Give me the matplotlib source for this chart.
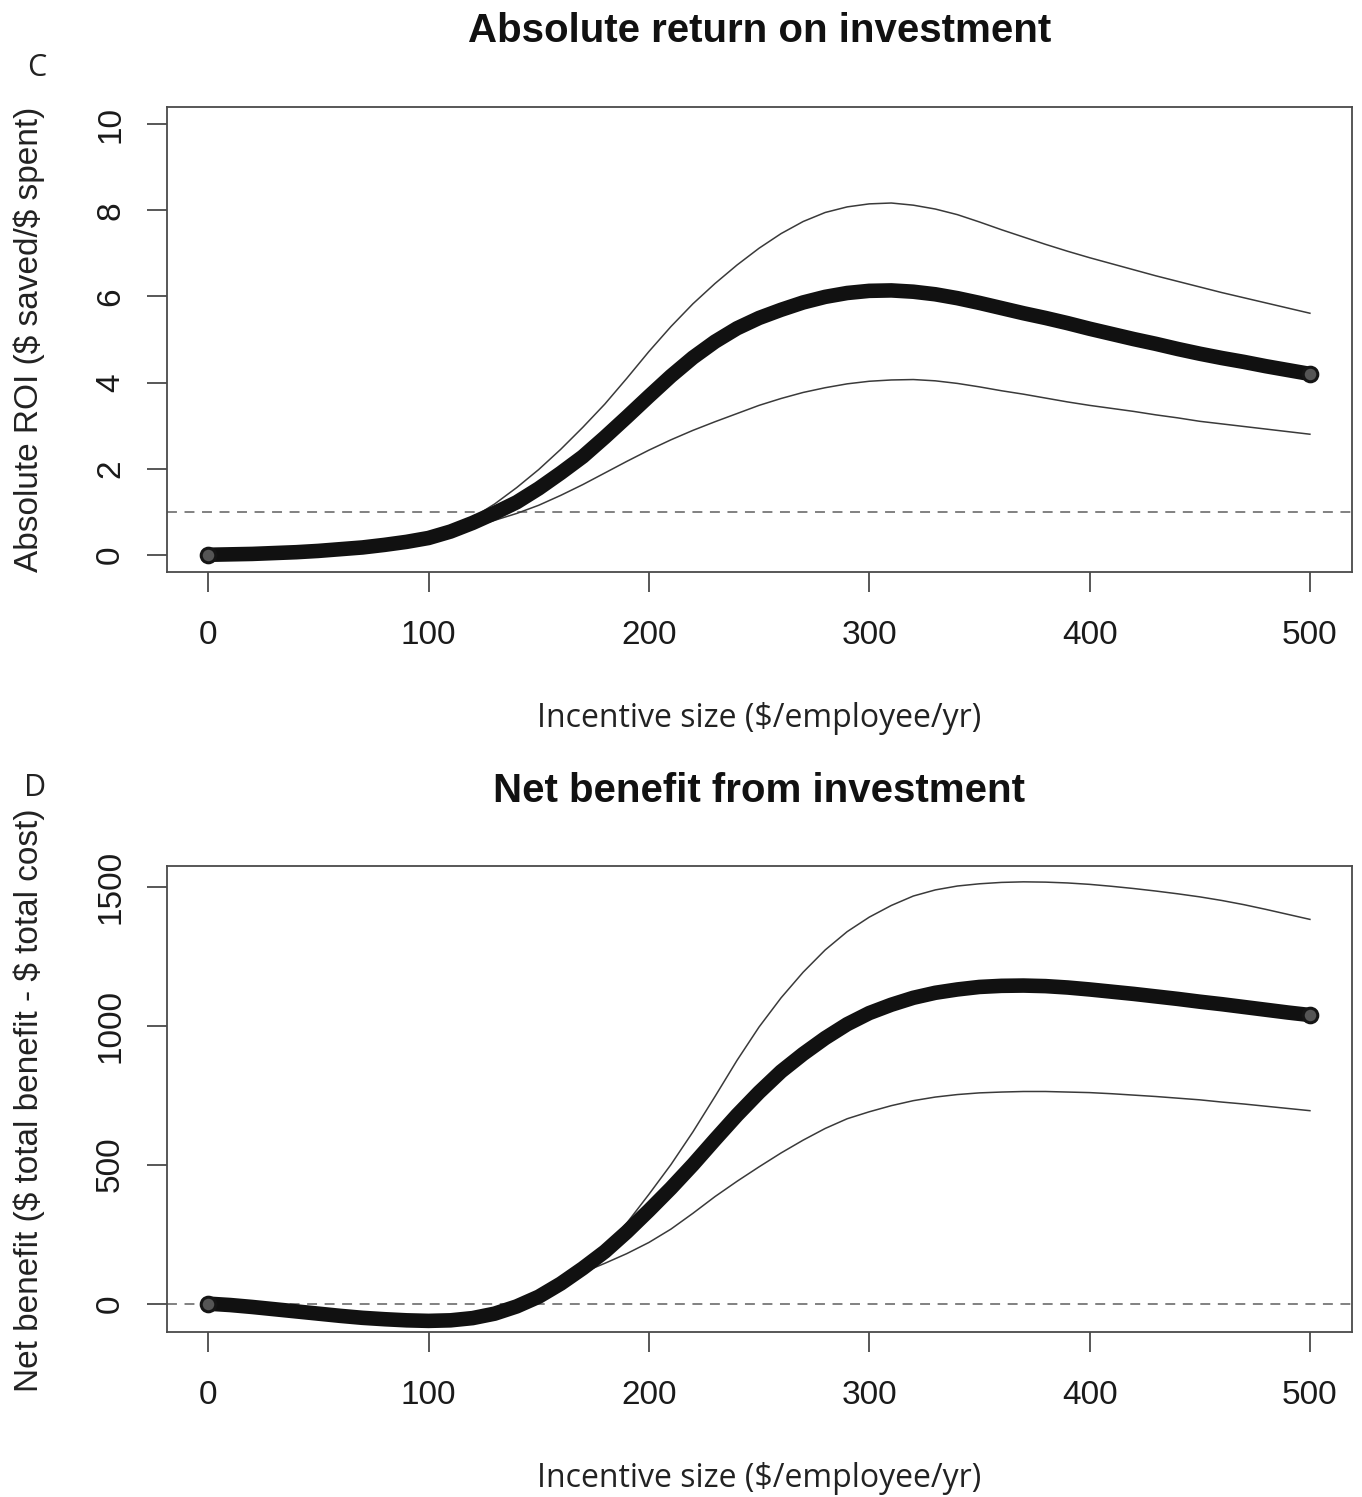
import matplotlib
matplotlib.use("Agg")
import matplotlib.pyplot as plt
import numpy as np

plt.rcParams["text.parse_math"] = False

# ---------------- data ----------------
incentive = list(range(0, 510, 10))

roi_mid = [0.00, 0.01, 0.02, 0.04, 0.06, 0.09, 0.13, 0.17, 0.23, 0.30,
           0.39, 0.54, 0.74, 0.97, 1.22, 1.54, 1.90, 2.28, 2.73, 3.20,
           3.68, 4.15, 4.58, 4.95, 5.26, 5.50, 5.69, 5.86, 5.99, 6.08,
           6.13, 6.14, 6.11, 6.05, 5.96, 5.85, 5.73, 5.61, 5.50, 5.38,
           5.25, 5.13, 5.01, 4.90, 4.78, 4.67, 4.57, 4.48, 4.38, 4.29,
           4.20]
roi_hi = [0.00, 0.01, 0.02, 0.04, 0.06, 0.09, 0.13, 0.17, 0.23, 0.30,
          0.40, 0.58, 0.86, 1.18, 1.56, 1.98, 2.45, 2.96, 3.50, 4.10,
          4.72, 5.30, 5.83, 6.30, 6.73, 7.12, 7.46, 7.74, 7.95, 8.08,
          8.15, 8.17, 8.12, 8.03, 7.90, 7.73, 7.55, 7.38, 7.21, 7.05,
          6.90, 6.76, 6.62, 6.48, 6.35, 6.22, 6.09, 5.97, 5.85, 5.73,
          5.61]
roi_lo = [0.00, 0.01, 0.02, 0.04, 0.06, 0.09, 0.13, 0.17, 0.23, 0.30,
          0.38, 0.50, 0.64, 0.80, 0.96, 1.15, 1.38, 1.63, 1.90, 2.17,
          2.43, 2.67, 2.89, 3.09, 3.28, 3.47, 3.63, 3.77, 3.88, 3.97,
          4.03, 4.06, 4.07, 4.04, 3.98, 3.90, 3.81, 3.73, 3.64, 3.55,
          3.47, 3.40, 3.33, 3.25, 3.18, 3.10, 3.04, 2.98, 2.92, 2.86,
          2.80]

nb_mid = [0, -5, -12, -20, -28, -36, -44, -51, -56, -60,
          -62, -60, -52, -36, -10, 25, 72, 127, 187, 258,
          335, 415, 500, 590, 678, 760, 835, 898, 955, 1005,
          1045, 1075, 1100, 1118, 1130, 1139, 1143, 1144, 1142, 1137,
          1130, 1122, 1114, 1105, 1096, 1086, 1077, 1067, 1057, 1047,
          1038]
nb_hi = [0, -5, -12, -20, -28, -36, -44, -51, -56, -60,
         -62, -60, -52, -36, -10, 25, 72, 133, 200, 290,
         393, 500, 618, 745, 875, 995, 1100, 1192, 1272, 1338,
         1390, 1432, 1466, 1488, 1502, 1510, 1515, 1517, 1516, 1513,
         1508, 1501, 1493, 1484, 1474, 1463, 1450, 1435, 1418, 1400,
         1382]
nb_lo = [0, -5, -12, -20, -28, -36, -44, -51, -56, -60,
         -62, -60, -52, -36, -10, 25, 72, 112, 145, 180,
         220, 268, 325, 385, 440, 492, 542, 588, 630, 665,
         690, 712, 730, 743, 752, 758, 761, 763, 763, 761,
         759, 755, 750, 745, 739, 733, 725, 718, 710, 702,
         694]

x_ticks = [0, 100, 200, 300, 400, 500]
roi_ticks = [0, 2, 4, 6, 8, 10]
nb_ticks = [0, 500, 1000, 1500]
roi_threshold = 1
nb_threshold = 0

# ---------------- figure ----------------
W, H = 1362, 1497
fig = plt.figure(figsize=(W / 100, H / 100), dpi=100)

TICKFONT = "Liberation Sans"
LABFONT = "Open Sans"


def fx(px):
    return px / W


def fy(py):
    return 1 - py / H


def make_axes(top, bottom):
    left, right = 167, 1352
    return fig.add_axes([fx(left), fy(bottom), (right - left) / W, (bottom - top) / H])


def style(ax, yticks, ylim, thr):
    ax.set_xlim(-18.7, 519.1)
    ax.set_ylim(*ylim)
    for s in ax.spines.values():
        s.set_color("#4a4a4a")
        s.set_linewidth(1.3)
    ax.set_xticks(x_ticks)
    ax.set_xticklabels([str(v) for v in x_ticks], fontfamily=TICKFONT, fontsize=24, color="#1a1a1a")
    ax.set_yticks(yticks)
    ax.set_yticklabels([str(v) for v in yticks], fontfamily=TICKFONT, fontsize=24,
                       rotation=90, va="center", color="#1a1a1a")
    ax.tick_params(axis="x", direction="out", length=14.5, width=1.3,
                   color="#4a4a4a", pad=20)
    ax.tick_params(axis="y", direction="out", length=14.5, width=1.3,
                   color="#4a4a4a", pad=15)
    ax.axhline(thr, color="#777777", lw=1.3, dashes=(5.5, 4.2), zorder=1)


def draw_band(ax, x, mid, hi, lo):
    ax.plot(x, hi, color="#3a3a3a", lw=1.1, zorder=2)
    ax.plot(x, lo, color="#3a3a3a", lw=1.1, zorder=2)
    ax.plot(x, mid, color="#111111", lw=10.5, solid_capstyle="round", zorder=3)
    ax.plot([x[0], x[-1]], [mid[0], mid[-1]], ls="none", marker="o", ms=10.5,
            mfc="#555555", mec="#151515", mew=2.2, zorder=4)


# top panel
ax1 = make_axes(107, 572)
style(ax1, roi_ticks, (-0.4, 10.4), roi_threshold)
draw_band(ax1, incentive, roi_mid, roi_hi, roi_lo)

# bottom panel
ax2 = make_axes(866, 1332)
style(ax2, nb_ticks, (-102, 1574), nb_threshold)
draw_band(ax2, incentive, nb_mid, nb_hi, nb_lo)

# texts
cx = fx((167 + 1352) / 2)
fig.text(cx, fy(42), "Absolute return on investment", ha="center", va="baseline",
         fontfamily=TICKFONT, fontweight="bold", fontsize=29, color="#111111")
fig.text(cx, fy(802), "Net benefit from investment", ha="center", va="baseline",
         fontfamily=TICKFONT, fontweight="bold", fontsize=29, color="#111111")
fig.text(fx(37), fy(76), "C", ha="center", va="baseline", fontfamily=LABFONT,
         fontsize=22, color="#222222")
fig.text(fx(35), fy(796), "D", ha="center", va="baseline", fontfamily=LABFONT,
         fontsize=22, color="#222222")
fig.text(cx, fy(727), "Incentive size ($/employee/yr)", ha="center", va="baseline",
         fontfamily=LABFONT, fontsize=23, color="#222222")
fig.text(cx, fy(1487), "Incentive size ($/employee/yr)", ha="center", va="baseline",
         fontfamily=LABFONT, fontsize=23, color="#222222")
fig.text(fx(29), fy((107 + 572) / 2), "Absolute ROI ($ saved/$ spent)", ha="center",
         va="center", rotation=90, fontfamily=TICKFONT, fontsize=24, color="#222222")
fig.text(fx(29), fy(1100), "Net benefit ($ total benefit - $ total cost)", ha="center",
         va="center", rotation=90, fontfamily=TICKFONT, fontsize=24, color="#222222")

fig.savefig("out.png", dpi=100, facecolor="white")
